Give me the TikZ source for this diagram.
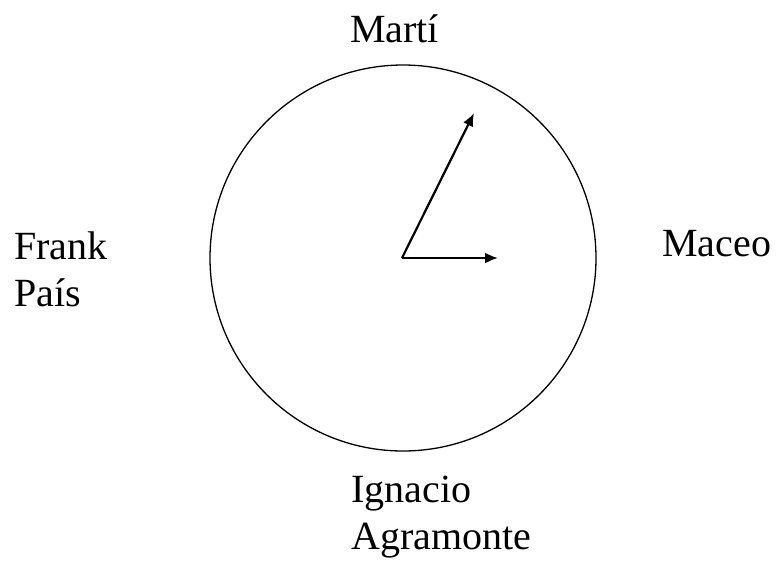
\documentclass[tikz,border=0pt]{standalone}
\usepackage{fontspec}
\setmainfont{Liberation Serif}
\usetikzlibrary{arrows.meta}
\begin{document}
\begin{tikzpicture}[x=1pt, y=-1pt, >={Latex[length=13pt, width=11pt]},
                hero/.style={inner sep=0pt, align=left, anchor=base west, font=\fontsize{40}{47}\selectfont},
                hand/.style={->, line width=2.2pt}
            ]
            \useasboundingbox (0,0) rectangle (776,563);

            % Dial
            \node[circle, draw, line width=1.3pt, minimum size=386pt, inner sep=0pt] (dial) at (403,258) {};
            \coordinate (centre) at (402,258);

            % Hands
            \coordinate (tipA) at (474,113);
            \coordinate (tipB) at (498,258);
            \draw[hand] (centre) -- (tipA);
            \draw[hand] (centre) -- (tipB);

            % Names round the dial (base = last line)
            \node[hero] (marti) at (350,42) {Martí};
            \node[hero] (maceo) at (662,256) {Maceo};
            \node[hero] (frank) at (14,306) {Frank\\País};
            \node[hero] (ignacio) at (351,549) {Ignacio\\Agramonte};

        \end{tikzpicture}
\end{document}
